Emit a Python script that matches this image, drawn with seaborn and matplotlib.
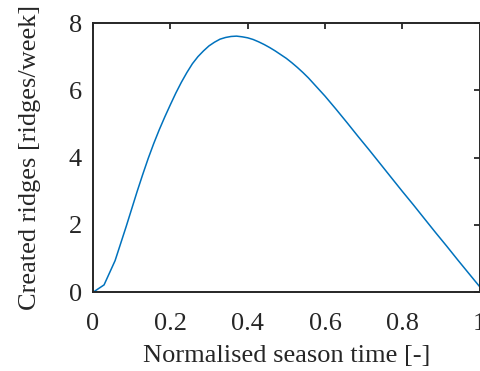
import matplotlib
matplotlib.use("Agg")
import matplotlib.pyplot as plt
import seaborn as sns
import pandas as pd

season_time = [0.0, 0.0286, 0.0571, 0.0857, 0.1143, 0.1286, 0.1429, 0.1571, 0.1714, 0.1857,
               0.2, 0.2143, 0.2286, 0.2429, 0.2571, 0.2714, 0.2857, 0.3, 0.3143,
               0.3286, 0.3429, 0.3571, 0.3714, 0.3857, 0.4, 0.4143, 0.4286, 0.4429,
               0.4571, 0.4714, 0.4857, 0.5, 0.5143, 0.5286, 0.5429, 0.5571, 0.5714,
               0.5857, 0.6, 0.6286, 0.6571, 0.6857, 0.7143, 0.7429, 0.7714, 0.8,
               0.8286, 0.8571, 0.8857, 0.9143, 0.9429, 0.9714, 1.0]
created_ridges = [0.0, 0.22, 0.94, 1.95, 3.0, 3.5, 3.98, 4.42, 4.83, 5.21,
                  5.57, 5.92, 6.24, 6.53, 6.79, 7.0, 7.17, 7.32, 7.43,
                  7.52, 7.57, 7.60, 7.61, 7.59, 7.56, 7.51, 7.44, 7.36,
                  7.27, 7.17, 7.06, 6.95, 6.82, 6.68, 6.53, 6.37, 6.19,
                  6.01, 5.83, 5.44, 5.04, 4.63, 4.23, 3.82, 3.41, 3.00,
                  2.60, 2.19, 1.78, 1.38, 0.97, 0.57, 0.17]
x_ticks = [0, 0.2, 0.4, 0.6, 0.8, 1]
x_tick_labels = ["0", "0.2", "0.4", "0.6", "0.8", "1"]
y_ticks = [0, 2, 4, 6, 8]
y_tick_labels = ["0", "2", "4", "6", "8"]

sns.set_style("white")
plt.rcParams["font.family"] = ["Liberation Serif", "DejaVu Serif"]

df = pd.DataFrame({"t": season_time, "r": created_ridges})

fig = plt.figure(figsize=(4.8, 3.71), dpi=100)
ax = fig.add_axes([93 / 480, 1 - 292.3 / 371, (479.6 - 93) / 480, (292.3 - 23) / 371])
sns.lineplot(data=df, x="t", y="r", ax=ax, color="#0072BD", linewidth=1.1)

ax.set_xlim(0, 1)
ax.set_ylim(0, 8)
ax.set_xticks(x_ticks)
ax.set_xticklabels(x_tick_labels)
ax.set_yticks(y_ticks)
ax.set_yticklabels(y_tick_labels)
ax.set_xlabel("Normalised season time [-]", fontsize=19, color="#262626", labelpad=7)
ax.set_ylabel("Created ridges [ridges/week]", fontsize=19, color="#262626", labelpad=20)
ax.tick_params(axis="both", which="both", direction="in", length=4, width=1.3,
               colors="#262626", labelsize=19, top=True, right=True)
ax.tick_params(axis="x", pad=15)
ax.tick_params(axis="y", pad=8)
for s in ax.spines.values():
    s.set_visible(True)
    s.set_linewidth(1.4)
    s.set_color("#262626")

fig.savefig("out.png", dpi=100)
